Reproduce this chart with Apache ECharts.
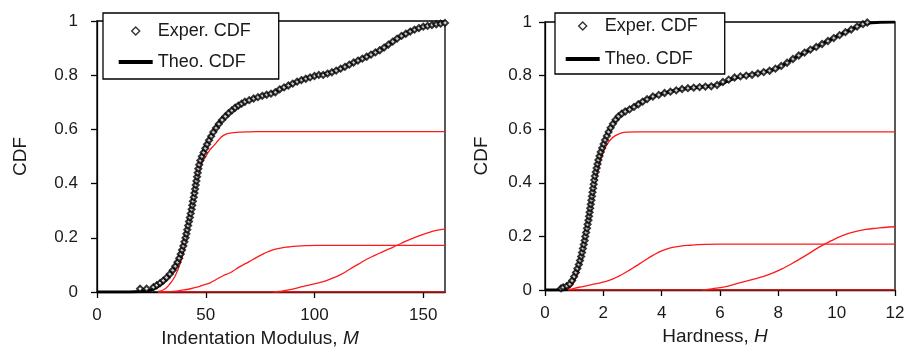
<!DOCTYPE html>
<html><head><meta charset="utf-8">
<script src="https://cdn.jsdelivr.net/npm/echarts@6/dist/echarts.min.js"></script>
<style>html,body{margin:0;padding:0;background:#fff}#c{width:907px;height:349px}</style>
</head><body><div id="c"></div>
<script>
// ---------- Left panel: Indentation Modulus M ----------
const leftExpM = [19.8,22.8,26,27.5,29,30.5,32,33.5,34.8,36,37,37.8,38.5,39.1,39.7,40.2,40.7,41.1,41.5,41.9,42.3,42.7,43.1,43.5,43.8,44.1,44.5,44.8,45.1,45.4,45.7,46,46.3,46.6,47,47.5,48.2,49,49.8,50.6,51.5,52.5,53.5,54.7,56,57.5,59,60.5,62,63.5,65,66.5,68,70,72,74,76,78,80,82,84,86,88,90,92,94,96,98,100,102,104,106,108,110,112,114,116,118,120,122,124,126,128,130,132,134,136,138,140,142,144,146,148,150,152,154,156,158,160];
const leftExpC = [0.012,0.012,0.018,0.025,0.033,0.042,0.053,0.066,0.08,0.095,0.11,0.125,0.14,0.155,0.17,0.185,0.2,0.215,0.23,0.245,0.26,0.275,0.29,0.305,0.32,0.335,0.35,0.365,0.38,0.395,0.41,0.425,0.44,0.455,0.47,0.485,0.5,0.515,0.53,0.545,0.56,0.575,0.59,0.605,0.62,0.635,0.648,0.66,0.67,0.68,0.688,0.695,0.702,0.708,0.714,0.719,0.724,0.728,0.732,0.737,0.748,0.755,0.762,0.769,0.776,0.782,0.787,0.792,0.797,0.801,0.801,0.806,0.811,0.817,0.824,0.831,0.839,0.847,0.854,0.861,0.868,0.876,0.884,0.892,0.902,0.913,0.924,0.935,0.945,0.953,0.961,0.968,0.974,0.979,0.982,0.985,0.988,0.99,0.993];
const leftTheoM = [0,10,20,25,28,31,34,36,38,40,42,44,46,48,50,52,54,56,58,60,63,66,70,75,80,85,90,95,100,105,110,115,120,125,130,135,140,145,150,155,160];
const leftTheoC = [0,0,0.002,0.008,0.02,0.04,0.07,0.095,0.135,0.185,0.255,0.34,0.43,0.5,0.54,0.57,0.6,0.625,0.643,0.657,0.675,0.69,0.707,0.722,0.733,0.75,0.769,0.785,0.797,0.805,0.817,0.835,0.854,0.872,0.892,0.918,0.945,0.965,0.979,0.986,0.993];
const leftComp1M = [28,31,34,36,38,40,42,44,46,48,50,52,54,56,58,60,63,66,70,80,160];
const leftComp1C = [0.002,0.01,0.035,0.06,0.1,0.155,0.24,0.32,0.4,0.47,0.5,0.525,0.543,0.562,0.577,0.584,0.588,0.59,0.591,0.592,0.592];
const leftComp2M = [28,35,40,43,46,49,52,55,58,61,64,67,70,73,76,79,82,85,88,92,96,100,160];
const leftComp2C = [0,0.002,0.008,0.012,0.018,0.026,0.034,0.047,0.06,0.07,0.085,0.099,0.112,0.126,0.139,0.15,0.158,0.163,0.166,0.169,0.171,0.172,0.172];
const leftComp3M = [28,81,85,90,95,100,104,108,112,116,120,124,128,132,136,140,144,148,152,156,160];
const leftComp3C = [0,0,0.003,0.011,0.021,0.03,0.038,0.05,0.064,0.083,0.102,0.121,0.136,0.151,0.165,0.18,0.194,0.207,0.218,0.227,0.232];
const leftBaseM = [81,160];
const leftBaseC = [0,0];
const leftTicks = [0,50,100,150];

// ---------- Right panel: Hardness H ----------
const rightExpH = [0.55,0.62,0.75,0.85,0.93,1.0,1.06,1.11,1.16,1.2,1.24,1.27,1.3,1.33,1.36,1.38,1.41,1.44,1.46,1.49,1.51,1.53,1.55,1.57,1.59,1.61,1.63,1.65,1.67,1.69,1.71,1.74,1.77,1.8,1.83,1.87,1.91,1.96,2.01,2.06,2.12,2.18,2.25,2.33,2.42,2.52,2.63,2.75,2.9,3.05,3.2,3.35,3.5,3.7,3.9,4.1,4.3,4.5,4.7,4.9,5.1,5.3,5.5,5.7,5.9,6.1,6.3,6.5,6.7,6.9,7.1,7.3,7.5,7.7,7.9,8.1,8.3,8.5,8.7,8.9,9.1,9.3,9.5,9.7,9.9,10.1,10.3,10.5,10.7,10.9,11.05];
const rightExpC = [0.006,0.01,0.015,0.022,0.035,0.05,0.065,0.08,0.095,0.11,0.125,0.14,0.155,0.17,0.185,0.2,0.215,0.23,0.245,0.26,0.275,0.29,0.305,0.32,0.335,0.35,0.365,0.38,0.395,0.41,0.425,0.44,0.455,0.47,0.485,0.5,0.515,0.53,0.545,0.56,0.575,0.59,0.605,0.62,0.635,0.648,0.658,0.666,0.674,0.683,0.693,0.703,0.712,0.722,0.728,0.735,0.74,0.745,0.75,0.753,0.755,0.757,0.759,0.76,0.765,0.776,0.785,0.793,0.797,0.8,0.803,0.808,0.813,0.818,0.826,0.836,0.848,0.862,0.875,0.886,0.897,0.907,0.918,0.929,0.94,0.951,0.962,0.972,0.983,0.992,0.998];
const rightTheoH = [0,0.4,0.6,0.8,1.0,1.2,1.4,1.6,1.8,2.0,2.2,2.4,2.6,2.8,3.0,3.5,4,4.5,5,5.5,6,6.5,7,7.5,8,8.5,9,9.5,10,10.5,11,11.5,12];
const rightTheoC = [0,0,0.005,0.015,0.045,0.11,0.215,0.335,0.465,0.545,0.595,0.63,0.655,0.67,0.682,0.712,0.732,0.745,0.754,0.759,0.768,0.79,0.802,0.813,0.83,0.862,0.891,0.918,0.946,0.972,0.994,0.999,1.0];
const rightComp1H = [0.8,1.0,1.2,1.4,1.6,1.8,2.0,2.2,2.4,2.6,2.8,3.2,12];
const rightComp1C = [0.003,0.03,0.095,0.2,0.318,0.44,0.515,0.555,0.575,0.585,0.589,0.59,0.59];
const rightComp2H = [0.8,1.0,1.3,1.6,1.9,2.2,2.5,2.8,3.1,3.4,3.7,4.0,4.3,4.6,5.0,5.5,6,12];
const rightComp2C = [0,0.006,0.013,0.02,0.027,0.036,0.05,0.068,0.088,0.109,0.129,0.146,0.157,0.163,0.167,0.17,0.171,0.171];
const rightComp3H = [0.8,5.4,5.8,6.2,6.6,7.0,7.4,7.8,8.2,8.6,9.0,9.4,9.8,10.2,10.6,11.0,11.4,11.8,12];
const rightComp3C = [0,0,0.006,0.013,0.025,0.036,0.048,0.063,0.083,0.107,0.133,0.16,0.183,0.203,0.217,0.226,0.231,0.235,0.236];
const rightBaseH = [5.4,12];
const rightBaseC = [0,0];
const rightTicks = [0,2,4,6,8,10,12];

const yTicks = [0,0.2,0.4,0.6,0.8,1];
const legendNames = ['Exper. CDF','Theo. CDF'];

function zip(a,b){return a.map((v,i)=>[v,b[i]]);}
const FONT = '"Liberation Sans", Arial, sans-serif';
const TXT = '#1a1a1a';

function xAxisCfg(idx, min, max, interval, nameRich, pad){
  return {type:'value', gridIndex:idx, min:min, max:max, interval:interval,
    axisLine:{show:true, lineStyle:{color:'#000', width:1.3}},
    axisTick:{show:true, inside:false, length:6, lineStyle:{color:'#000', width:1.3}},
    axisLabel:{show:true, showMaxLabel: (max % interval === 0), margin:15, fontSize:17, color:TXT, fontFamily:FONT},
    splitLine:{show:false},
    name:nameRich, nameLocation:'middle', nameGap:37,
    nameTextStyle:{fontSize:19, color:TXT, fontFamily:FONT, padding:pad,
      rich:{n:{fontSize:19, color:TXT, fontFamily:FONT}, i:{fontSize:19, color:TXT, fontFamily:FONT, fontStyle:'italic'}}}
  };
}
function yAxisCfg(idx, margin, gap){
  return {type:'value', gridIndex:idx, min:0, max:1, interval:0.2,
    axisLine:{show:true, lineStyle:{color:'#000', width:1.3}},
    axisTick:{show:true, inside:false, length:6, lineStyle:{color:'#000', width:1.3}},
    axisLabel:{margin:margin, fontSize:17, color:TXT, fontFamily:FONT},
    splitLine:{show:false},
    name:'CDF', nameLocation:'middle', nameGap:gap,
    nameTextStyle:{fontSize:19, color:TXT, fontFamily:FONT}
  };
}
function redLine(name, idx, xs, ys){
  return {name:name, type:'line', xAxisIndex:idx, yAxisIndex:idx, data:zip(xs,ys), smooth:true,
    showSymbol:false, symbol:'none', lineStyle:{color:'#ff1a1a', width:1.3}, itemStyle:{color:'#ff1a1a'}, z:2, silent:true};
}
// legend icons: diamond padded to the icon box so it keeps its shape
const diamondIcon = 'path://M0,0M34,9M17,0.6L21,4.5L17,8.4L13,4.5Z';
const lineIcon = 'path://M0,0h34v4h-34z';
function legendCfg(left, top, pad, gap){
  return {left:left, top:top, orient:'vertical', backgroundColor:'#fff', borderColor:'#000', borderWidth:1.3,
    padding:pad, itemGap:gap, itemWidth:34, itemHeight:9,
    textStyle:{fontSize:18, color:TXT, fontFamily:FONT},
    selectedMode:false,
    data:[{name:legendNames[0], icon:diamondIcon, itemStyle:{color:'#fff', borderColor:'#000', borderWidth:1.4}},
          {name:legendNames[1], icon:lineIcon, itemStyle:{color:'#000', borderWidth:0}}]};
}

const option = {
  animation:false,
  backgroundColor:'#fff',
  grid:[
    {left:97, top:21, width:348, height:271, show:true, borderColor:'#000', borderWidth:1.3, backgroundColor:'transparent', containLabel:false, outerBoundsMode:'none'},
    {left:545, top:22, width:350, height:268, show:true, borderColor:'#000', borderWidth:1.3, backgroundColor:'transparent', containLabel:false, outerBoundsMode:'none'}
  ],
  legend:[ legendCfg(103, 13, [9,28,8,15], 13), legendCfg(555, 13, [4,27,6,10], 15) ],
  xAxis:[
    xAxisCfg(0, 0, 160, 50, '{n|Indentation Modulus, }{i|M}', [0,22,0,0]),
    xAxisCfg(1, 0, 12, 2, '{n|Hardness, }{i|H}', [0,10,0,0])
  ],
  yAxis:[ yAxisCfg(0, 19, 67), yAxisCfg(1, 13, 54) ],
  series:[
    redLine('c1L',0,leftComp1M,leftComp1C),
    redLine('c2L',0,leftComp2M,leftComp2C),
    redLine('c3L',0,leftComp3M,leftComp3C),
    redLine('c0L',0,leftBaseM,leftBaseC),
    {name:legendNames[1], type:'line', xAxisIndex:0, yAxisIndex:0, data:zip(leftTheoM,leftTheoC), smooth:true, showSymbol:false, symbol:'none',
      lineStyle:{color:'#000', width:3}, itemStyle:{color:'#000'}, z:3},
    {name:legendNames[0], type:'scatter', xAxisIndex:0, yAxisIndex:0, data:zip(leftExpM,leftExpC), symbol:'emptyDiamond', symbolSize:[6,6],
      itemStyle:{color:'#000', borderColor:'#000', borderWidth:1.1}, z:4},
    redLine('c1R',1,rightComp1H,rightComp1C),
    redLine('c2R',1,rightComp2H,rightComp2C),
    redLine('c3R',1,rightComp3H,rightComp3C),
    redLine('c0R',1,rightBaseH,rightBaseC),
    {name:legendNames[1], type:'line', xAxisIndex:1, yAxisIndex:1, data:zip(rightTheoH,rightTheoC), smooth:true, showSymbol:false, symbol:'none',
      lineStyle:{color:'#000', width:3}, itemStyle:{color:'#000'}, z:3},
    {name:legendNames[0], type:'scatter', xAxisIndex:1, yAxisIndex:1, data:zip(rightExpH,rightExpC), symbol:'emptyDiamond', symbolSize:[6,6],
      itemStyle:{color:'#000', borderColor:'#000', borderWidth:1.1}, z:4}
  ]
};
const chart = echarts.init(document.getElementById('c'), null, {renderer:'canvas'});
chart.setOption(option);
</script></body></html>
